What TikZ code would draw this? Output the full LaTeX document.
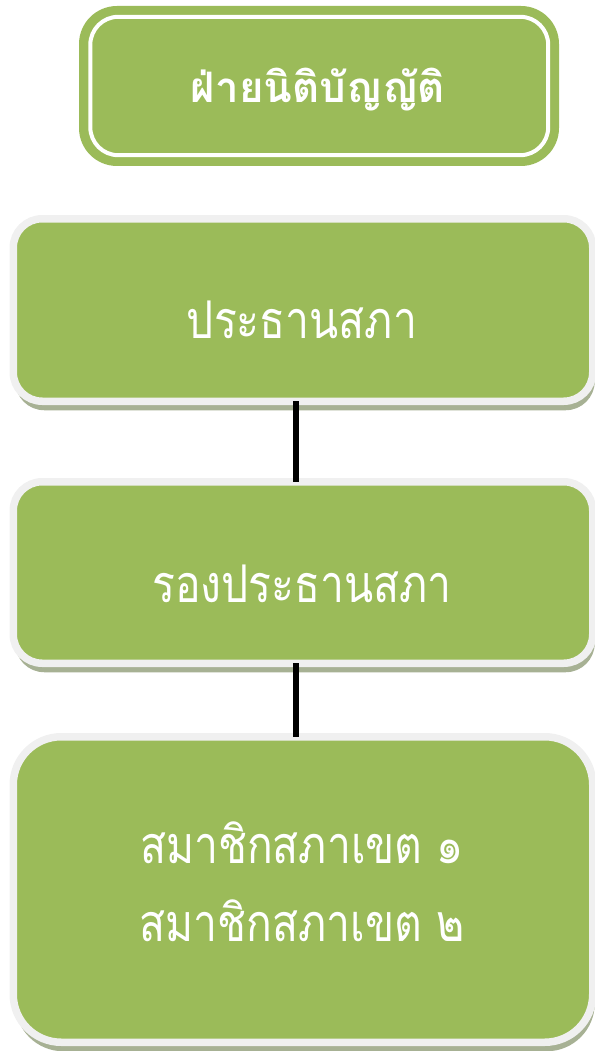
\documentclass[tikz,border=0pt]{standalone}
\usepackage{fontspec}
\newfontfamily\thaifont[Script=Thai,FakeStretch=0.82]{Loma}
\newfontfamily\thaititle[Script=Thai]{Loma}
\usetikzlibrary{shadows,calc}
\definecolor{boxgreen}{HTML}{9BBB59}
\definecolor{rimgray}{HTML}{F0F0F0}
\definecolor{shadowc}{HTML}{A7B194}
\tikzset{
  orgbox/.style={draw=rimgray, line width=7.5pt, fill=boxgreen, rounded corners=29pt,
    minimum width=579.5pt, inner sep=0pt,
    drop shadow={shadow xshift=2pt, shadow yshift=-9pt, fill=shadowc, opacity=1}},
  boxtext/.style={anchor=base, text=white, font=\thaifont\fontsize{52}{60}\selectfont, inner sep=0pt},
  link/.style={line width=6pt, black}
}
\begin{document}
\begin{tikzpicture}[x=1pt,y=-1pt]
\useasboundingbox (0,0) rectangle (594,1051);
% title
\node[fill=boxgreen, rounded corners=38pt, minimum width=480pt, minimum height=160pt, inner sep=0pt] (title) at (319,86) {};
\draw[white, line width=4pt, rounded corners=28pt] ($(title.north west)+(11.5,11)$) rectangle ($(title.south east)+(-11,-11)$);
\node[boxtext, font=\thaititle\bfseries\fontsize{42}{48}\selectfont] (ttext) at (318,103) {ฝ่ายนิติบัญญัติ};
% boxes
\node[orgbox, minimum height=182.5pt] (b1) at (303,310) {};
\node[orgbox, minimum height=181.5pt] (b2) at (303,572.5) {};
\node[orgbox, minimum height=305.5pt, rounded corners=48pt] (b3) at (303,889.5) {};
\node[boxtext] (t1) at (302,338) {ประธานสภา};
\node[boxtext] (t2) at (302,602) {รองประธานสภา};
\node[boxtext] (t3a) at (302,863) {สมาชิกสภาเขต ๑};
\node[boxtext] (t3b) at (302,941) {สมาชิกสภาเขต ๒};
% links
\draw[link] ([xshift=-7pt,yshift=3.75pt]b1.south) -- ([xshift=-7pt,yshift=-3.75pt]b2.north);
\draw[link] ([xshift=-7pt,yshift=3.75pt]b2.south) -- ([xshift=-7pt,yshift=-3.75pt]b3.north);
\end{tikzpicture}
\end{document}
